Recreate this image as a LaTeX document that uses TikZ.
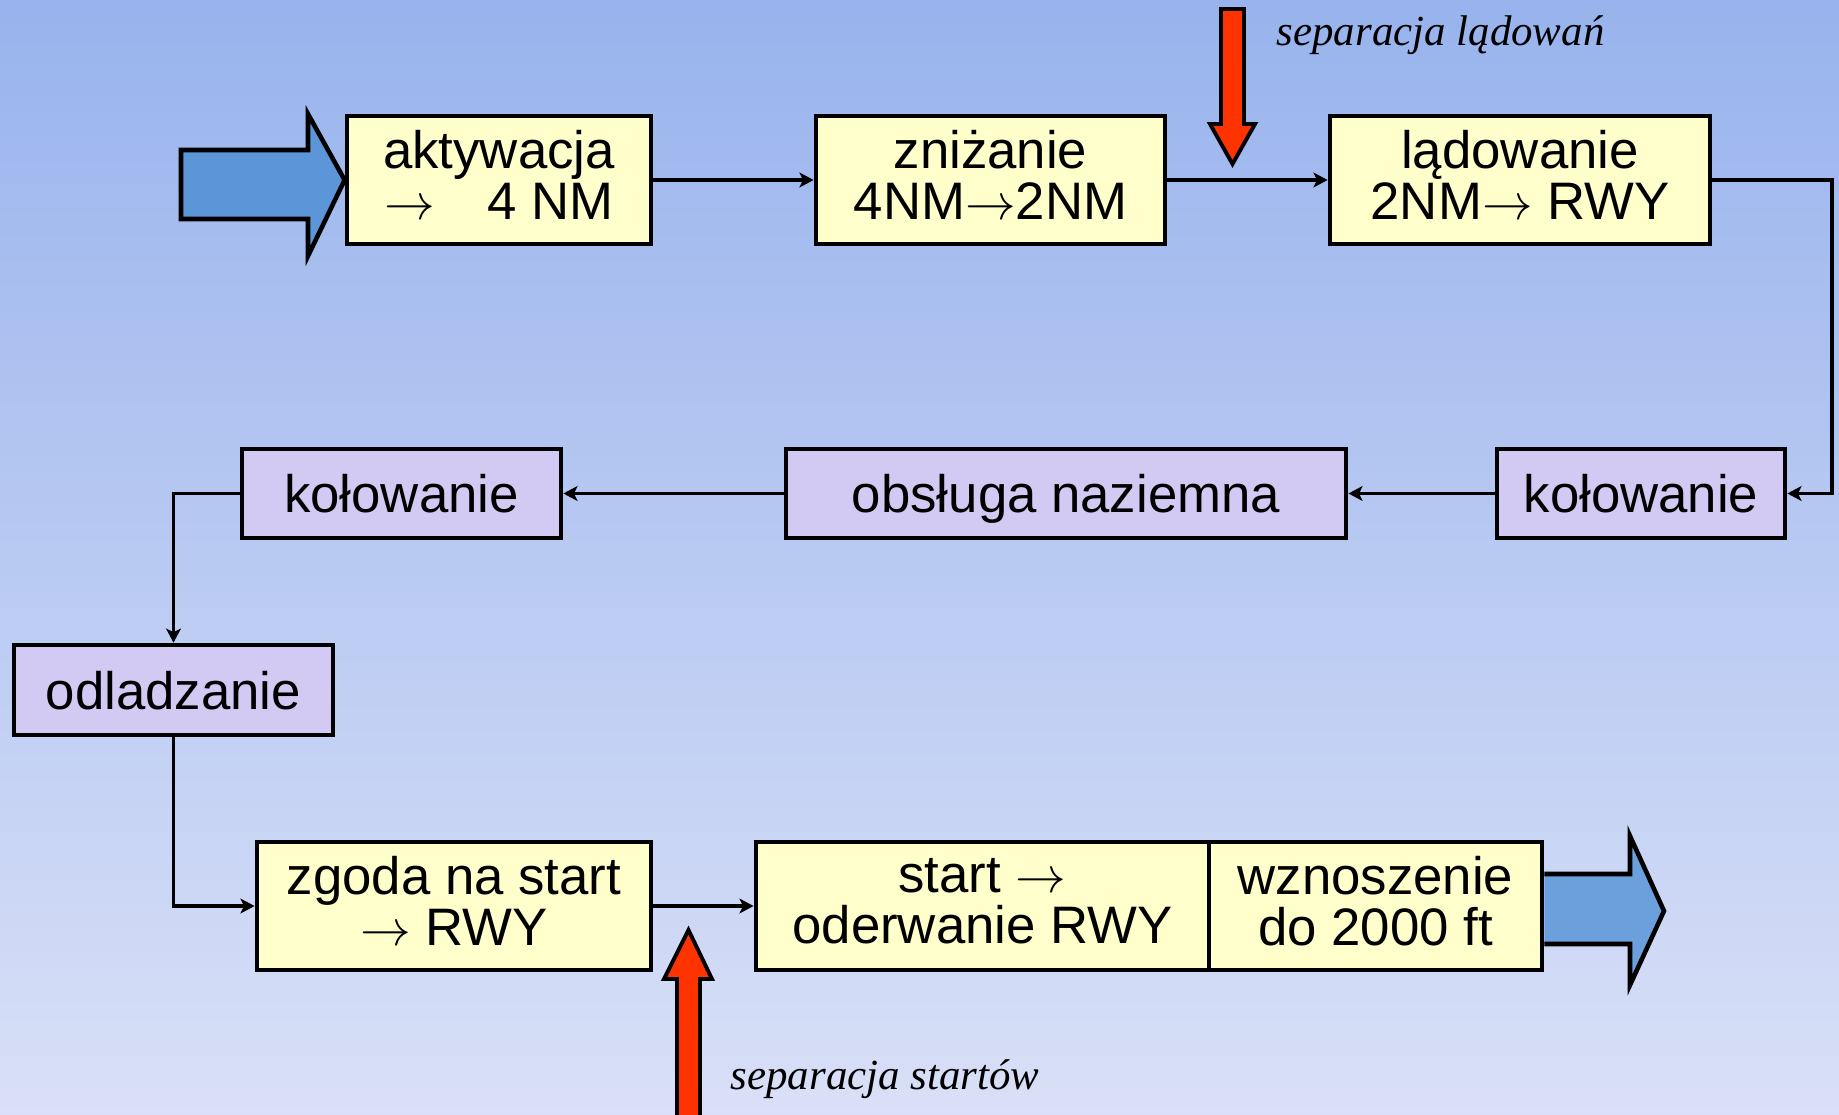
\documentclass[tikz,border=0pt]{standalone}
\usepackage{fontspec}
\setmainfont{Liberation Sans}
\newfontfamily\notefont{Liberation Serif}
\usetikzlibrary{
  positioning
  , arrows.meta
}

\definecolor{bgtop}{RGB}{152,179,237}
\definecolor{bgbot}{RGB}{217,224,247}
\definecolor{boxyellow}{RGB}{255,255,204}
\definecolor{boxlilac}{RGB}{210,202,242}
\definecolor{arrowblue}{RGB}{92,150,216}
\definecolor{arrowred}{RGB}{255,51,0}
\newcommand\flowfont{\fontsize{15}{14.6}\selectfont}
\newcommand\sepfont{\notefont\itshape\fontsize{12.2}{14}\selectfont}

\begin{document}
\begin{tikzpicture}[x=0.01cm,y=-0.01cm,
    stage/.style={draw=black,line width=1.3pt,font=\flowfont,align=center,
      inner sep=0pt,minimum height=1.28cm},
    yellowbox/.style={stage,fill=boxyellow,text depth=0.28em},
    lilacbox/.style={stage,fill=boxlilac,minimum height=0.89cm,text depth=0pt},
    flow/.style={line width=0.9pt,-{Stealth[length=4pt,width=4.2pt,inset=1pt]}},
    bigarrow/.style={draw=black,line width=1.3pt,fill=arrowblue,line join=miter},
    redarrow/.style={draw=black,line width=1.1pt,fill=arrowred,line join=miter},
    sepnote/.style={font=\sepfont,anchor=west,inner sep=0pt}]
      \useasboundingbox (0,0) rectangle (1839,1115);
      \shade[top color=bgtop,bottom color=bgbot] (0,0) rectangle (1839,1115);

      % upper row
      \node [yellowbox,minimum width=3.04cm] (akt) at (499,180) {aktywacja\\$\rightarrow$\quad 4 NM};
      \node [yellowbox,minimum width=3.49cm] (zniz) at (990.5,180) {zniżanie\\4NM$\rightarrow$2NM};
      \node [yellowbox,minimum width=3.80cm] (lad) at (1520,180) {lądowanie\\2NM$\rightarrow$ RWY};

      % middle row
      \node [lilacbox,minimum width=2.88cm] (kolR) at (1641,493.5) {kołowanie};
      \node [lilacbox,minimum width=5.60cm] (obs) at (1066,493.5) {obsługa naziemna};
      \node [lilacbox,minimum width=3.19cm] (kolL) at (401.5,493.5) {kołowanie};
      \node [lilacbox,minimum width=3.19cm,minimum height=0.90cm] (odl) at (173.5,690) {odladzanie};

      % lower row
      \node [yellowbox,minimum width=3.94cm] (zgoda) at (454,906) {zgoda na start\\$\rightarrow$ RWY};
      \node [yellowbox,minimum width=4.53cm] (start) at (982.5,906) {start $\rightarrow$\\oderwanie RWY};
      \node [yellowbox,minimum width=3.33cm] (wzn) at (1375.5,906) {wznoszenie\\do 2000 ft};

      % connectors
      \coordinate (turnR) at (1832,180);
      \draw [flow] (akt) -- (zniz);
      \draw [flow] (zniz) -- (lad);
      \draw [flow] (lad.east) -- (turnR) |- (kolR.east);
      \draw [flow] (kolR) -- (obs);
      \draw [flow] (obs) -- (kolL);
      \draw [flow] (kolL.west) -| (odl.north);
      \draw [flow] (odl.south) |- (zgoda.west);
      \draw [flow] (zgoda) -- (start);

      % in and out
      \draw [bigarrow] (181,150) -- (308,150) -- (308,114) -- (akt.west)
        -- (308,256) -- (308,219) -- (181,219) -- cycle;
      \draw [bigarrow,fill=arrowblue!90!white] (wzn.east |- 0,874) -- (1630,874) -- (1630,836)
        -- (1664,911) -- (1630,985) -- (1630,944) -- (wzn.east |- 0,944);

      % separations
      \draw [redarrow] (1221,9) -- (1244,9) -- (1244,124) -- (1255,124) -- (1232.5,164)
        -- (1210,124) -- (1221,124) -- cycle;
      \node [sepnote] (sepL) at (1276,35) {separacja lądowań};
      \draw [redarrow] (677,1120) -- (677,979) -- (664,979) -- (688.5,930) -- (712,979)
        -- (700,979) -- (700,1120);
      \node [sepnote] (sepS) at (730,1079) {separacja startów};

    \end{tikzpicture}
\end{document}
